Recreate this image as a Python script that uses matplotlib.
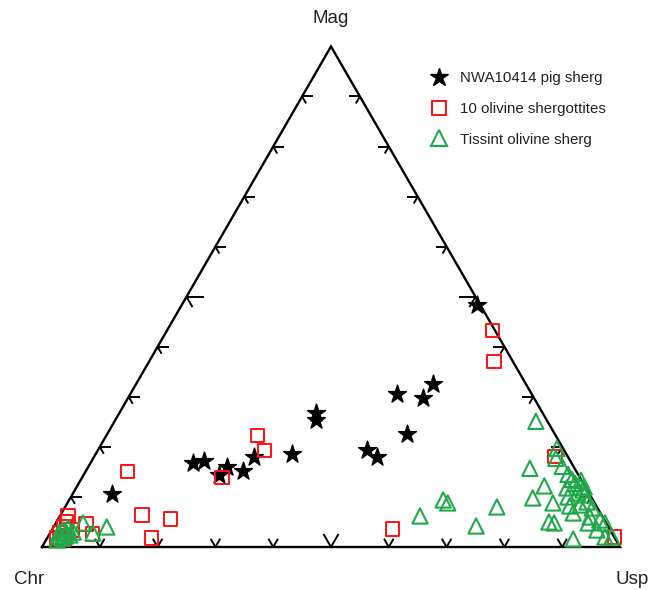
import numpy as np
import matplotlib
matplotlib.use("Agg")
import matplotlib.pyplot as plt
from matplotlib.lines import Line2D

plt.rcParams['font.family'] = ['Liberation Sans', 'DejaVu Sans']

# ---- data: ternary compositions in percent (Usp, Mag); Chr = 100 - Usp - Mag ----
star_usp = [51.1, 51.4, 46.2, 51.1, 34.1, 34.75, 51.9, 46.6, 49.0, 34.0, 27.7,
            17.8, 19.5, 24.05, 27.2, 23.5, 6.8]
star_mag = [48.4, 32.5, 30.5, 29.7, 26.7, 25.3, 22.5, 19.3, 17.9, 18.5, 17.9,
            16.7, 17.1, 15.9, 15.1, 14.3, 10.6]

sq_usp = [56.4, 59.65, 26.2, 28.9, 24.2, 7.3, 14.1, 19.5, 18.1, 58.9, 79.7, 98.0,
          1.4, 1.8, 1.8, 1.7, 5.3, 7.5, 1.7, 3.0, 3.5]
sq_mag = [43.2, 37.1, 22.3, 19.3, 13.9, 15.1, 6.4, 5.6, 1.8, 3.6, 18.1, 2.0,
          6.2, 5.0, 4.0, 2.8, 4.6, 2.6, 1.8, 1.6, 3.4]

tri_usp = [62.3, 64.7, 65.8, 73.0, 74.7,
           72.9, 79.25, 80.05, 76.55, 81.95, 80.8, 80.0, 84.0, 85.2, 86.2, 91.1,
           83.75, 84.95, 85.85, 87.1, 87.9, 88.7, 87.2, 87.2, 88.5, 88.9, 89.8,
           91.8, 92.1, 94.3, 95.0, 96.4, 97.6, 84.9, 86.0, 86.6, 87.8, 91.3, 93.8,
           4.7, 7.4, 9.2, 1.9, 2.8, 2.0, 2.6, 2.6, 3.6, 1.9, 2.9, 3.9, 1.5]
tri_mag = [6.2, 9.4, 8.8, 4.2, 8.0,
           25.1, 19.7, 17.7, 15.7, 16.1, 12.2, 9.8, 8.8, 5.0, 4.8, 1.6,
           14.5, 13.5, 12.7, 12.0, 11.4, 10.4, 10.8, 8.2, 6.8, 8.4, 9.0,
           6.0, 4.8, 3.4, 4.8, 2.0, 2.0, 11.8, 10.0, 13.3, 12.0, 7.8, 5.4,
           4.8, 2.8, 4.0, 3.4, 2.8, 2.2, 3.8, 1.8, 2.4, 1.4, 2.2, 3.0, 2.8]

apex_labels = ["Chr", "Usp", "Mag"]
series_labels = ["NWA10414 pig sherg", "10 olivine shergottites", "Tissint olivine sherg"]

S3 = np.sqrt(3) / 2


def to_xy(usp, mag):
    usp = np.asarray(usp, float)
    mag = np.asarray(mag, float)
    return usp + mag / 2.0, mag * S3


fig = plt.figure(figsize=(6.61, 5.90), dpi=100)
ax = fig.add_axes([0, 0, 1, 1])
ppu = 5.78
ax.set_xlim(-42 / ppu, (661 - 42) / ppu)
ax.set_ylim(-43 / ppu, 547 / ppu)
ax.axis('off')

# triangle frame
tx, ty = to_xy([0, 100, 0, 0], [0, 0, 100, 0])
ax.plot(tx, ty, color='black', lw=1.7, solid_joinstyle='miter', zorder=2)

# tick marks (chevrons) every 10 %
def arm(x0, y0, ang, L):
    a = np.deg2rad(ang)
    ax.plot([x0, x0 + L * np.cos(a)], [y0, y0 + L * np.sin(a)],
            color='black', lw=1.4, solid_capstyle='butt', zorder=2)

for k in range(1, 10):
    big = (k == 5)
    La = (17 if big else 11) / ppu
    Lb = (12 if big else 8) / ppu
    Lv = (15 if big else 9.5) / ppu
    v = k * 10.0
    # left edge (Chr-Mag)
    x0, y0 = to_xy(0, v)
    arm(x0, y0, 0, La)
    arm(x0, y0, -60, Lb)
    # right edge (Usp-Mag)
    x0, y0 = to_xy(100 - v, v)
    arm(x0, y0, 180, La)
    arm(x0, y0, 240, Lb)
    # bottom edge (Chr-Usp)
    x0, y0 = to_xy(v, 0)
    arm(x0, y0, 60, Lv)
    arm(x0, y0, 120, Lv)

# data
sx, sy = to_xy(star_usp, star_mag)
ax.scatter(sx, sy, marker='*', s=13.5 ** 2, color='black', zorder=3)
qx, qy = to_xy(sq_usp, sq_mag)
ax.scatter(qx, qy, marker='s', s=9.5 ** 2, facecolor='none', edgecolor='#ff1010',
           linewidths=1.4, zorder=4)
gx, gy = to_xy(tri_usp, tri_mag)
ax.scatter(gx, gy, marker='^', s=11 ** 2, facecolor='none', edgecolor='#20a84a',
           linewidths=1.5, zorder=5)

# apex labels
ax.text(-2.25, -5.54, apex_labels[0], fontsize=13.5, ha='center', va='center', color='#222222')
ax.text(102.1, -5.54, apex_labels[1], fontsize=13.5, ha='center', va='center', color='#222222')
ax.text(50.0, 91.5, apex_labels[2], fontsize=13.5, ha='center', va='center', color='#222222')

# legend
handles = [
    Line2D([], [], ls='none', marker='*', ms=13.5, color='black'),
    Line2D([], [], ls='none', marker='s', ms=9.5, mfc='none', mec='#ff1010', mew=1.4),
    Line2D([], [], ls='none', marker='^', ms=11, mfc='none', mec='#20a84a', mew=1.5),
]
leg = ax.legend(handles, series_labels, loc='upper left',
                bbox_to_anchor=(431 / 661, 1 - 71 / 590), frameon=False,
                fontsize=10.8, handlelength=1.0, handletextpad=0.9,
                labelspacing=1.12, borderpad=0, borderaxespad=0)
for t in leg.get_texts():
    t.set_color('#222222')

fig.savefig('out.png', dpi=100)
